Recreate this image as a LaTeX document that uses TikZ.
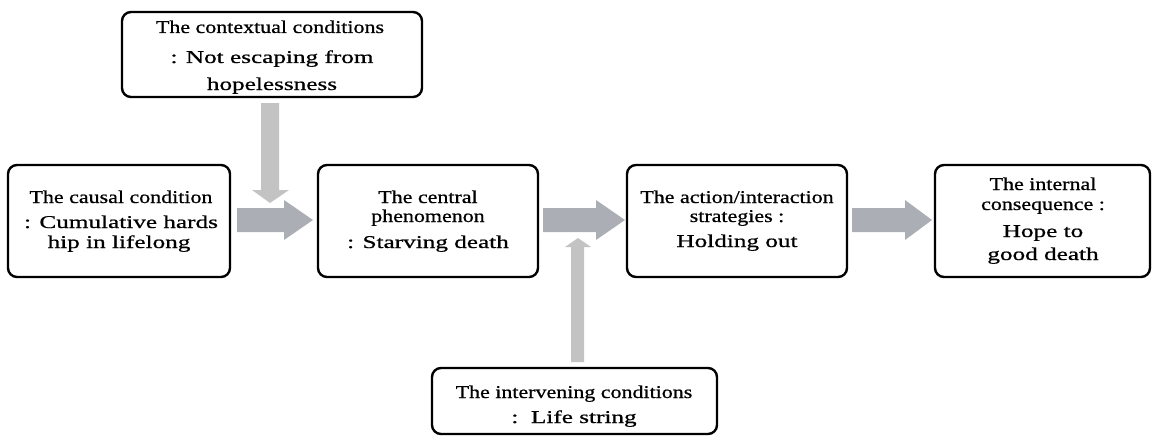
\documentclass[tikz,border=0pt]{standalone}
\usepackage{fontspec}
\setmainfont{Liberation Serif}
\newfontfamily\headf[FakeStretch=1.22,FakeBold=0.8]{Liberation Serif}
\newfontfamily\contf[FakeStretch=1.4,FakeBold=0.8]{Liberation Serif}
\definecolor{harrowc}{HTML}{ABAEB5}
\definecolor{varrowc}{HTML}{C3C3C3}
\begin{document}
\begin{tikzpicture}[x=1pt,y=-1pt,
  box/.style={draw=black, line width=2.4pt, rounded corners=9pt, inner sep=0pt},
  hd/.style={anchor=base, inner sep=0pt, font=\headf\fontsize{18}{20}\selectfont},
  ct/.style={anchor=base, inner sep=0pt, font=\contf\fontsize{18}{20}\selectfont},
  harr/.style={fill=harrowc},
  varr/.style={fill=varrowc}]
\useasboundingbox (0,0) rectangle (1153,436);
% boxes
\node[box, minimum width=222pt, minimum height=112pt] (b1) at (119,221) {};
\node[box, minimum width=220pt, minimum height=112pt] (b2) at (428,221) {};
\node[box, minimum width=220pt, minimum height=112pt] (b3) at (737,221) {};
\node[box, minimum width=215pt, minimum height=112pt] (b4) at (1042.5,221) {};
\node[box, minimum width=300pt, minimum height=85pt] (bt) at (272,54.5) {};
\node[box, minimum width=285pt, minimum height=66pt] (bb) at (574.5,401) {};
% arrows
\fill[harr] (237,208) -- (284,208) -- (284,200) -- (313,220) -- (284,240) -- (284,232) -- (237,232) -- cycle;
\fill[harr] (543,208) -- (596,208) -- (596,200) -- (625,220) -- (596,240) -- (596,232) -- (543,232) -- cycle;
\fill[harr] (852,208) -- (905,208) -- (905,200) -- (932,220) -- (905,240) -- (905,232) -- (852,232) -- cycle;
\fill[varr] (261,103) -- (279,103) -- (279,190) -- (289,190) -- (270,203) -- (252,190) -- (261,190) -- cycle;
\fill[varr] (571,362) -- (584,362) -- (584,247) -- (591,247) -- (578,238) -- (565,247) -- (571,247) -- cycle;
% texts
\node[hd] (t1a) at (121,203) {The causal condition};
\node[ct] (t1b) at (121,228) {: Cumulative hards};
\node[ct] (t1c) at (119,248) {hip in lifelong};
\node[hd] (t2a) at (428,203) {The central};
\node[hd] (t2b) at (428,222) {phenomenon};
\node[ct] (t2c) at (428,248) {: Starving death};
\node[hd] (t3a) at (737,203) {The action/interaction};
\node[hd] (t3b) at (737,222) {strategies :};
\node[ct] (t3c) at (737,247) {Holding out};
\node[hd] (t4a) at (1043,190) {The internal};
\node[hd] (t4b) at (1043,210) {consequence :};
\node[ct] (t4c) at (1043,237) {Hope to};
\node[ct] (t4d) at (1043,260) {good death};
\node[hd] (tta) at (270,33) {The contextual conditions};
\node[ct] (ttb) at (272,63) {: Not escaping from};
\node[ct] (ttc) at (272,90) {hopelessness};
\node[hd] (tba) at (574,398) {The intervening conditions};
\node[ct] (tbb) at (574,423) {:\ \ Life string};
\end{tikzpicture}
\end{document}
